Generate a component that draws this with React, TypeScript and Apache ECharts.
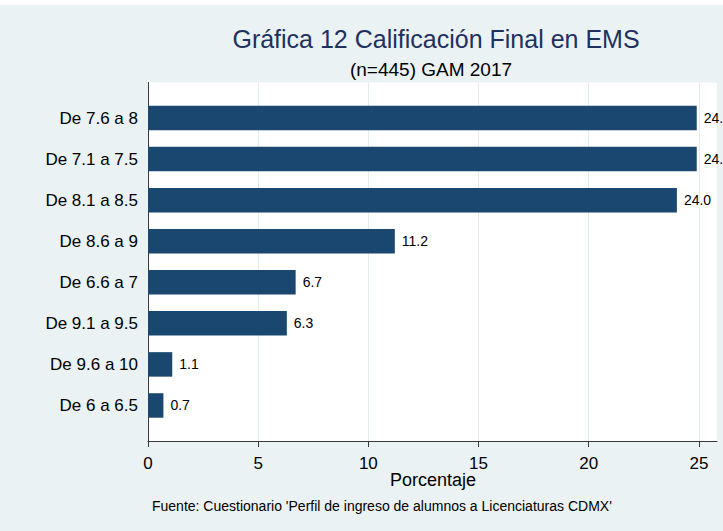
import React, { useEffect, useRef } from "react";
import * as echarts from "echarts";

const categories = [
  "De 7.6 a 8",
  "De 7.1 a 7.5",
  "De 8.1 a 8.5",
  "De 8.6 a 9",
  "De 6.6 a 7",
  "De 9.1 a 9.5",
  "De 9.6 a 10",
  "De 6 a 6.5",
];
const values = [24.9, 24.9, 24.0, 11.2, 6.7, 6.3, 1.1, 0.7];
const xTicks = [0, 5, 10, 15, 20, 25];
const xMax = 25.82;

const titleText = "Gráfica 12 Calificación Final en EMS";
const subtitleText = "(n=445) GAM 2017";
const axisName = "Porcentaje";
const noteText = "Fuente: Cuestionario 'Perfil de ingreso de alumnos a Licenciaturas CDMX'";

const FONT = "'Liberation Sans', Arial, Helvetica, sans-serif";
const BAR = "#1A476F";
const AXIS = "#3a3a3a";

export default function App() {
  const ref = useRef<HTMLDivElement>(null);
  useEffect(() => {
    if (!ref.current) return;
    const chart = echarts.init(ref.current, undefined, { renderer: "svg" });
    const option: any = {
      animation: false,
      backgroundColor: "#EAF2F3",
      textStyle: { fontFamily: FONT },
      grid: [
        {
          left: 148,
          top: 82.5,
          width: 569,
          height: 358.5,
          show: true,
          backgroundColor: "#ffffff",
          borderWidth: 0,
          containLabel: false,
          outerBoundsMode: "none",
        },
        {
          left: 148,
          top: 97.5,
          width: 569,
          height: 328.5,
          show: false,
          containLabel: false,
          outerBoundsMode: "none",
        },
      ],
      xAxis: [
        {
          type: "value",
          gridIndex: 0,
          min: 0,
          max: xMax,
          axisLine: { show: true, onZero: false, lineStyle: { color: AXIS, width: 1 } },
          axisTick: { show: true, length: 6, customValues: xTicks, lineStyle: { color: AXIS } },
          axisLabel: {
            show: true,
            customValues: xTicks,
            fontSize: 17,
            color: "#000",
            margin: 14,
            fontFamily: FONT,
          },
          splitLine: { show: true, lineStyle: { color: "#E3ECEE", width: 1 } },
        },
        {
          type: "value",
          gridIndex: 1,
          min: 0,
          max: xMax,
          show: false,
        },
      ],
      yAxis: [
        {
          type: "value",
          gridIndex: 0,
          min: 0,
          max: 1,
          axisLine: { show: true, onZero: false, lineStyle: { color: AXIS, width: 1 } },
          axisTick: { show: false },
          axisLabel: { show: false },
          splitLine: { show: false },
        },
        {
          type: "category",
          gridIndex: 1,
          inverse: true,
          data: categories,
          axisLine: { show: false },
          axisTick: { show: false },
          axisLabel: { fontSize: 17, color: "#000", margin: 10, fontFamily: FONT },
          splitLine: { show: false },
        },
      ],
      series: [
        {
          type: "bar",
          xAxisIndex: 1,
          yAxisIndex: 1,
          data: values,
          barWidth: 24.5,
          itemStyle: { color: BAR },
          label: {
            show: true,
            position: "right",
            distance: 7,
            fontSize: 14,
            color: "#000",
            fontFamily: FONT,
            formatter: (p: any) => Number(p.value).toFixed(1),
          },
        },
      ],
      graphic: [
        { type: "rect", shape: { x: 0, y: 0, width: 723, height: 5 }, style: { fill: "#ffffff" }, z: 10 },
        {
          type: "text",
          x: 436,
          y: 38.5,
          style: {
            text: titleText,
            fontSize: 25,
            fontFamily: FONT,
            fill: "#1E3160",
            textAlign: "center",
            textVerticalAlign: "middle",
          },
        },
        {
          type: "text",
          x: 431,
          y: 69,
          style: {
            text: subtitleText,
            fontSize: 19,
            fontFamily: FONT,
            fill: "#000",
            textAlign: "center",
            textVerticalAlign: "middle",
          },
        },
        {
          type: "text",
          x: 433,
          y: 480,
          style: {
            text: axisName,
            fontSize: 18,
            fontFamily: FONT,
            fill: "#000",
            textAlign: "center",
            textVerticalAlign: "middle",
          },
        },
        {
          type: "text",
          x: 152,
          y: 506,
          style: {
            text: noteText,
            fontSize: 14,
            fontFamily: FONT,
            fill: "#000",
            textAlign: "left",
            textVerticalAlign: "middle",
          },
        },
      ],
    };
    chart.setOption(option);
    return () => chart.dispose();
  }, []);
  return (
    <div
      ref={ref}
      style={{ position: "fixed", left: 0, top: 0, width: 723, height: 531 }}
    />
  );
}
